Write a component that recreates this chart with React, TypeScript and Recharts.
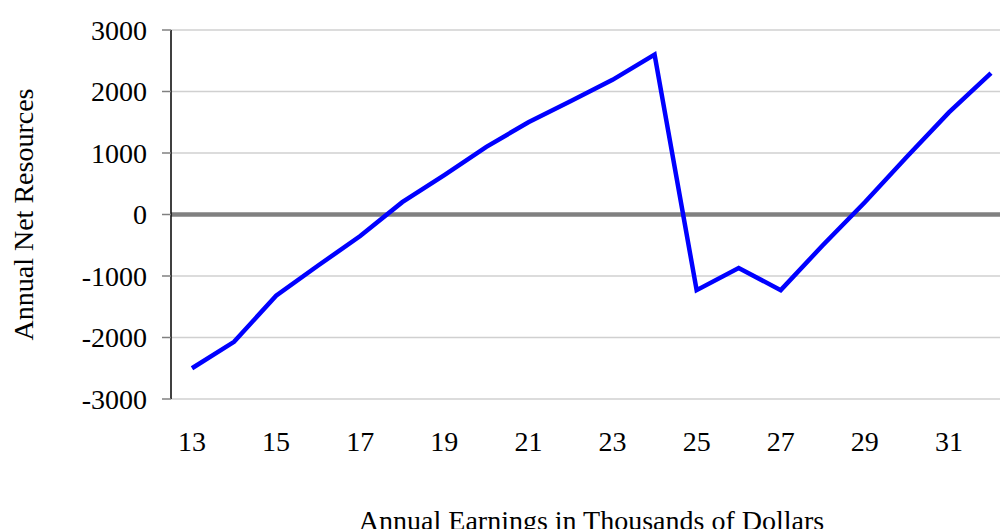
import { CartesianGrid, Label, Line, LineChart, ReferenceLine, XAxis, YAxis } from "recharts"

const earnings = [13, 14, 15, 16, 17, 18, 19, 20, 21, 22, 23, 24, 25, 26, 27, 28, 29, 30, 31, 32]
const netResources = [
  -2500, -2070, -1320, -830, -350, 200, 640, 1100, 1500, 1840, 2190, 2600, -1230, -870, -1230, -500, 200, 940, 1660,
  2300,
]
const yTicks = [-3000, -2000, -1000, 0, 1000, 2000, 3000]

const data = earnings.map((e, i) => ({ earnings: e, net: netResources[i] }))

const font = { fontFamily: "'Liberation Serif', 'Times New Roman', serif", fontSize: 28, fill: "#000" }

export default function App() {
  return (
    <div style={{ position: "absolute", left: 0, top: 0, width: 1000, height: 529, overflow: "hidden", background: "#fff" }}>
      <LineChart width={1020} height={529} data={data} margin={{ top: 30, right: 8, bottom: 0, left: 0 }}>
        <CartesianGrid vertical={false} stroke="#d0d0d0" strokeWidth={1.5} />
        <XAxis
          dataKey="earnings"
          interval={1}
          axisLine={false}
          tickLine={false}
          tickSize={0}
          tickMargin={32}
          height={130}
          padding={{ left: 21, right: 21 }}
          tick={font}
        >
          <Label
            value="Annual Earnings in Thousands of Dollars"
            position="insideBottom"
            offset={-1}
            style={{ ...font }}
          />
        </XAxis>
        <YAxis
          domain={[-3000, 3000]}
          ticks={yTicks}
          width={171}
          axisLine={{ stroke: "#000", strokeWidth: 1.5 }}
          tickLine={{ stroke: "#808080", strokeWidth: 1.5 }}
          tickSize={9}
          tickMargin={15}
          tick={font}
        >
          <Label
            value="Annual Net Resources"
            angle={-90}
            position="insideLeft"
            offset={23}
            style={{ ...font, textAnchor: "middle" }}
          />
        </YAxis>
        <ReferenceLine y={0} stroke="#808080" strokeWidth={4.5} />
        <Line
          type="linear"
          dataKey="net"
          stroke="#0000ff"
          strokeWidth={4.5}
          dot={false}
          activeDot={false}
          isAnimationActive={false}
        />
      </LineChart>
    </div>
  )
}
